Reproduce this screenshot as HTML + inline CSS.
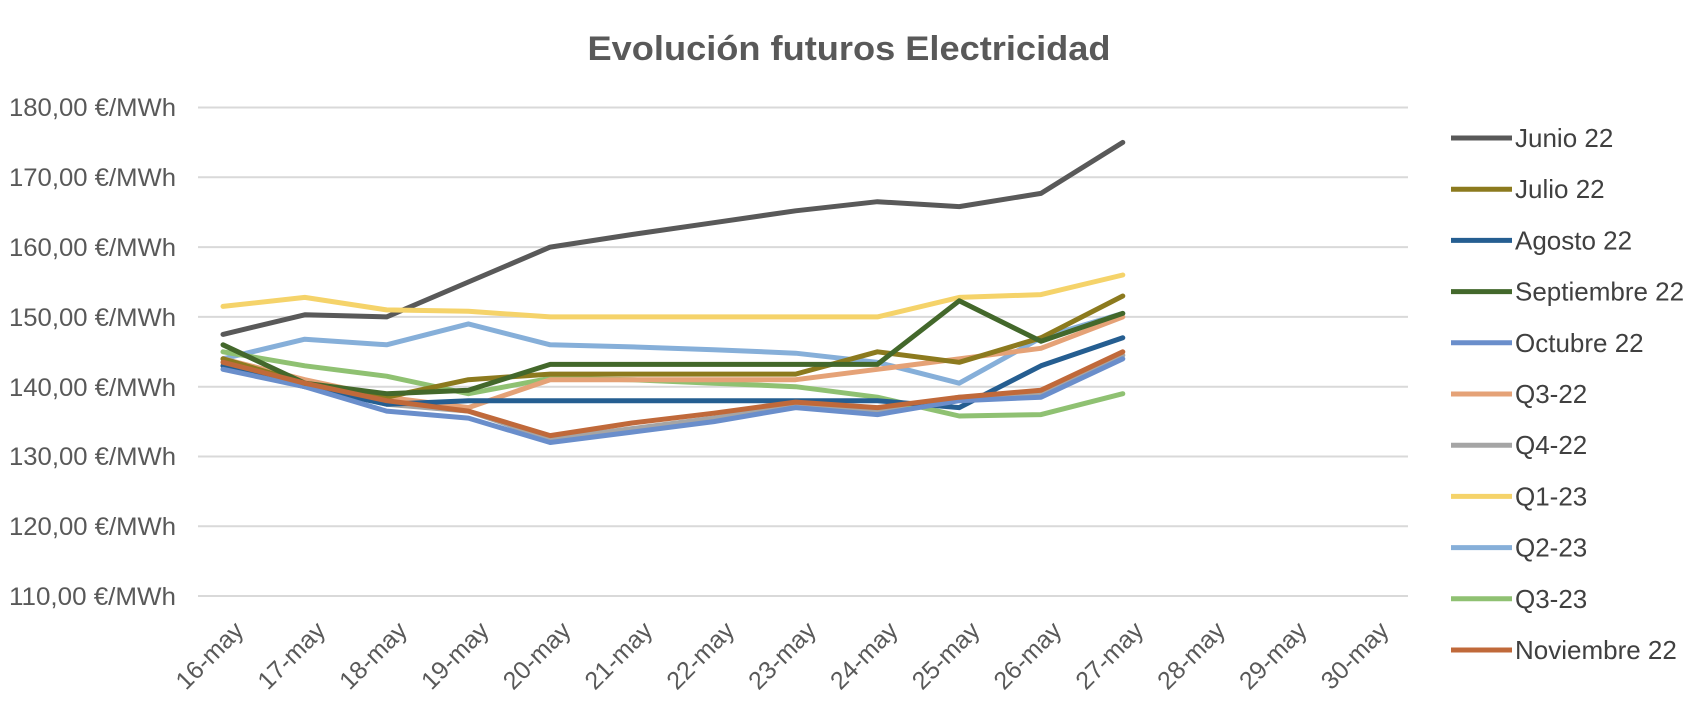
<!DOCTYPE html>
<html><head><meta charset="utf-8"><style>
html,body{margin:0;padding:0;background:#fff;}
svg{display:block;font-family:"Liberation Sans",sans-serif;}
</style></head><body>
<svg width="1706" height="704" viewBox="0 0 1706 704" xmlns="http://www.w3.org/2000/svg">
<text x="849" y="60" text-anchor="middle" font-size="34" font-weight="bold" fill="#595959" textLength="523" lengthAdjust="spacingAndGlyphs">Evolución futuros Electricidad</text>
<g stroke="#d9d9d9" stroke-width="2">
<line x1="198" x2="1408" y1="107.5" y2="107.5"/><line x1="198" x2="1408" y1="177.3" y2="177.3"/>
<line x1="198" x2="1408" y1="247.1" y2="247.1"/><line x1="198" x2="1408" y1="316.9" y2="316.9"/>
<line x1="198" x2="1408" y1="386.7" y2="386.7"/><line x1="198" x2="1408" y1="456.5" y2="456.5"/>
<line x1="198" x2="1408" y1="526.3" y2="526.3"/><line x1="198" x2="1408" y1="596" y2="596"/>
</g>
<g font-size="25" fill="#595959">
<text x="9" y="116" textLength="167" lengthAdjust="spacingAndGlyphs">180,00 €/MWh</text><text x="9" y="186" textLength="167" lengthAdjust="spacingAndGlyphs">170,00 €/MWh</text>
<text x="9" y="256" textLength="167" lengthAdjust="spacingAndGlyphs">160,00 €/MWh</text><text x="9" y="326" textLength="167" lengthAdjust="spacingAndGlyphs">150,00 €/MWh</text>
<text x="9" y="396" textLength="167" lengthAdjust="spacingAndGlyphs">140,00 €/MWh</text><text x="9" y="465" textLength="167" lengthAdjust="spacingAndGlyphs">130,00 €/MWh</text>
<text x="9" y="535" textLength="167" lengthAdjust="spacingAndGlyphs">120,00 €/MWh</text><text x="9" y="605" textLength="167" lengthAdjust="spacingAndGlyphs">110,00 €/MWh</text>
</g>
<g font-size="25" fill="#595959" text-anchor="end" id="xl"></g>
<g id="series" fill="none" stroke-width="5" stroke-linejoin="round" stroke-linecap="round"></g>
<g id="leg" font-size="26" fill="#404040"></g>
</svg>
<script>
var ns="http://www.w3.org/2000/svg";
function X(i){return 223+81.8*i;}
function Y(v){return 107.5+(180-v)*6.98;}
var xl=document.getElementById('xl');
for(var i=0;i<15;i++){var t=document.createElementNS(ns,'text');var x=X(i)+22,y=632;
t.setAttribute('x',x);t.setAttribute('y',y);t.setAttribute('transform','rotate(-45 '+x+' '+y+')');t.textContent=(16+i)+'-may';xl.appendChild(t);}
var S=[
["Junio 22","#595959",[147.5,150.3,150,155,160,161.8,163.5,165.2,166.5,165.8,167.7,175]],
["Julio 22","#8c7a1e",[144,140.5,138.5,141,141.8,141.8,141.8,141.8,145,143.5,147,153]],
["Agosto 22","#255e91",[143,140,137.5,138,138,138,138,138,138,137,143,147]],
["Septiembre 22","#43682b",[146,140.5,139,139.5,143.2,143.2,143.2,143.2,143.2,152.3,146.5,150.5]],
["Octubre 22","#6a8ecb",[142.5,140,136.5,135.5,132,133.5,135,137,136,138,138.5,144]],
["Q3-22","#e5a277",[144,141,138.5,137,141,141,141,141,142.5,144,145.5,150]],
["Q4-22","#a5a5a5",[143,140.5,137.5,136.5,132.5,134,135.5,137.3,136.5,138.5,139,144.5]],
["Q1-23","#f5d36a",[151.5,152.8,151,150.8,150,150,150,150,150,152.8,153.2,156]],
["Q2-23","#86afd9",[144,146.8,146,149,146,145.7,145.3,144.8,143.5,140.5,147,150.5]],
["Q3-23","#8fc172",[145,143,141.5,139,141.2,141,140.5,140,138.5,135.8,136,139]],
["Noviembre 22","#c0693a",[143.5,140.5,138,136.5,133,134.8,136.2,137.8,137,138.5,139.5,145]]];
var order=[6,0,7,8,9,5,2,4,1,3,10];
var g=document.getElementById('series');
order.forEach(function(k){var s=S[k];var p=s[2].map(function(v,i){return X(i).toFixed(1)+','+Y(v).toFixed(1);}).join(' ');
var pl=document.createElementNS(ns,'polyline');pl.setAttribute('points',p);pl.setAttribute('stroke',s[1]);g.appendChild(pl);});
var lg=document.getElementById('leg');
S.forEach(function(s,i){var y=138+51.2*i;var l=document.createElementNS(ns,'line');
l.setAttribute('x1',1451);l.setAttribute('x2',1512);l.setAttribute('y1',y);l.setAttribute('y2',y);l.setAttribute('stroke',s[1]);l.setAttribute('stroke-width',5);lg.appendChild(l);
var t=document.createElementNS(ns,'text');t.setAttribute('x',1515);t.setAttribute('y',y+9);t.textContent=s[0];lg.appendChild(t);});
</script>
</body></html>
